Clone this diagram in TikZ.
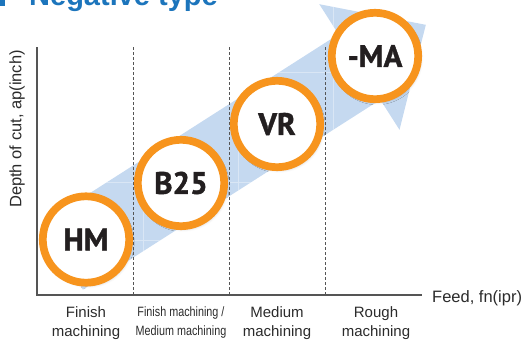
\documentclass[tikz,border=0pt]{standalone}
\usepackage{fontspec}
\setmainfont{Liberation Sans}
\newfontfamily\narrowfont[FakeStretch=0.8]{Liberation Sans}
\newfontfamily\badgefont[BoldFeatures={FakeBold=1.3}]{PT Sans}
\usetikzlibrary{shadows.blur}
\definecolor{ringorange}{HTML}{F7941D}
\definecolor{arrowblue}{HTML}{C5D9F0}
\definecolor{titleblue}{HTML}{1C75BC}
\definecolor{inkdark}{HTML}{231F20}
\definecolor{axisgray}{HTML}{555555}
\definecolor{labelgray}{HTML}{2B2B2B}

% outline of the wide progression arrow (pixel-style coordinates, y downwards)
\newcommand{\progressarrow}{(41.1,224.3) -- (82.9,289.7) -- (380.3,99.7) -- (399.5,129.8)
  -- (425.8,24.8) -- (319.3,4.2) -- (338.5,34.3) -- cycle}

\begin{document}
\begin{tikzpicture}[x=1pt,y=-1pt,
  badge/.style={circle, draw=ringorange, line width=7.7pt, fill=white,
    minimum size=86.4pt, inner sep=0pt, text=inkdark,
    font=\badgefont\bfseries\fontsize{31}{31}\selectfont,
    blur shadow={shadow xshift=2pt, shadow yshift=-2.5pt,
      shadow blur radius=3pt, shadow opacity=25}},
  catlabel/.style={align=center, inner sep=0pt, text=labelgray,
    font=\fontsize{15}{19}\selectfont},
  narrowlabel/.style={align=center, inner sep=0pt, text=labelgray,
    font=\narrowfont\fontsize{13.5}{19}\selectfont},
  axislabel/.style={inner sep=0pt, text=labelgray,
    font=\fontsize{16.5}{19}\selectfont},
  axisline/.style={draw=axisgray, line width=1.3pt},
  divider/.style={draw=axisgray, line width=0.7pt, dash pattern=on 3pt off 2pt}]

\useasboundingbox (0,0) rectangle (525,343);
\clip (0,0) rectangle (525,343);

% heading
\fill[titleblue] (-15,-20) rectangle (5,5.5);
\node[anchor=base west, inner sep=0pt, text=titleblue,
  font=\bfseries\fontsize{29}{29}\selectfont] (title) at (29,5.5) {Negative type};

% progression arrow with its faint grid
\fill[arrowblue] \progressarrow;
\begin{scope}
  \clip \progressarrow;
  \draw[white, opacity=0.35, line width=0.6pt]
    (143,0) -- (143,300) (238,0) -- (238,300) (333,0) -- (333,300)
    (0,72) -- (450,72) (0,182) -- (450,182) (0,240) -- (450,240);
\end{scope}

% axes
\coordinate (ytop) at (37,47);
\coordinate (origin) at (37,295);
\coordinate (xend) at (422,295);
\draw[axisline] (ytop) -- (origin) -- (xend);

% zone dividers
\coordinate (d1t) at (133,47);  \coordinate (d1b) at (133,295);
\coordinate (d2t) at (229,47);  \coordinate (d2b) at (229,295);
\coordinate (d3t) at (325,47);  \coordinate (d3b) at (325,295);
\draw[divider] (d1t) -- (d1b);
\draw[divider] (d2t) -- (d2b);
\draw[divider] (d3t) -- (d3b);

% axis labels
\node[axislabel, rotate=90] (ylab) at (17,129) {Depth of cut, ap(inch)};
\node[axislabel, anchor=base west] (xlab) at (432,302) {Feed, fn(ipr)};

% zone labels
\node[catlabel, anchor=north] (z1) at (86,306) {Finish\\machining};
\node[narrowlabel, anchor=north] (z2) at (181,306.5) {Finish machining /\\Medium machining};
\node[catlabel, anchor=north] (z3) at (277,306) {Medium\\machining};
\node[catlabel, anchor=north] (z4) at (376,306) {Rough\\machining};

% grade badges
\node[badge] (hm)  at (86,239.5) {HM};
\node[badge] (b25) at (181,183) {B25};
\node[badge] (vr)  at (277,124) {VR};
\node[badge] (ma)  at (375,56) {-MA};

\end{tikzpicture}
\end{document}
